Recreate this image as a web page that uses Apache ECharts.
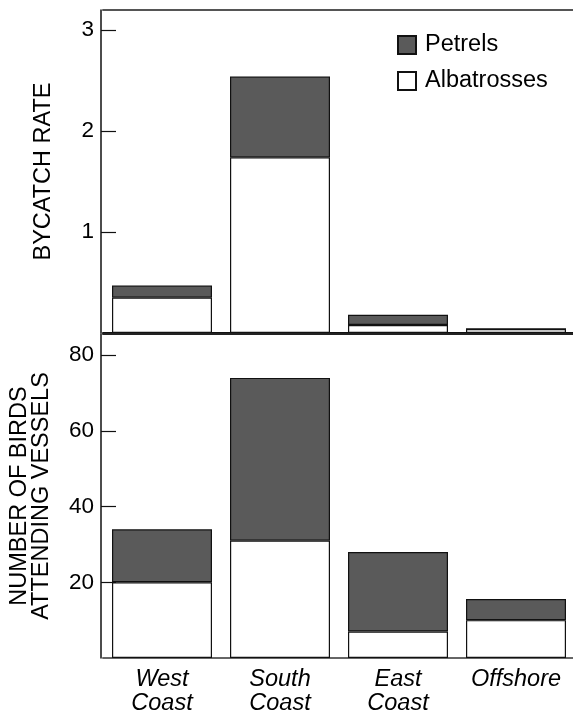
<!DOCTYPE html>
<html><head><meta charset="utf-8">
<script src="https://cdn.jsdelivr.net/npm/echarts@6/dist/echarts.min.js"></script>
<style>html,body{margin:0;padding:0;background:#fff}#c{width:573px;height:713px}</style>
</head><body><div id="c"></div>
<script>
const categories = ['West\nCoast', 'South\nCoast', 'East\nCoast', 'Offshore'];
const bycatchAlbatrosses = [0.35, 1.74, 0.08, 0.04];
const bycatchPetrels = [0.12, 0.80, 0.10, 0];
const birdsAlbatrosses = [20, 31, 7, 10];
const birdsPetrels = [14, 43, 21, 5.6];
const bycatchTicks = [1, 2, 3];
const birdsTicks = [20, 40, 60, 80];

const FONT = 'Liberation Sans, Arial, Helvetica, sans-serif';
const petrelColor = '#5a5a5a';
const chart = echarts.init(document.getElementById('c'), null, {renderer: 'canvas'});

function yAx(gi, max, ticks, name, lh, gap) {
  return {
    type: 'value', gridIndex: gi, min: 0, max: max, offset: 2,
    name: name, nameLocation: 'middle', nameGap: gap, nameRotate: 90,
    nameTextStyle: {fontFamily: FONT, fontSize: 23.5, color: '#000', lineHeight: lh},
    axisLine: {show: true, lineStyle: {color: '#111', width: 1.5}},
    axisTick: {show: true, inside: true, length: 15, customValues: ticks, lineStyle: {color: '#111', width: 1.2}},
    axisLabel: {customValues: ticks, fontFamily: FONT, fontSize: 22.5, color: '#000', margin: 7},
    splitLine: {show: false}
  };
}
function xAx(gi, pos, labels, lineColor) {
  return {
    type: 'category', gridIndex: gi, data: categories, position: pos,
    axisLine: {show: true, onZero: false, lineStyle: {color: lineColor, width: 2}},
    axisTick: {show: false},
    axisLabel: labels ? {show: true, interval: 0, fontFamily: FONT, fontSize: 23.5, fontStyle: 'italic', color: '#000', lineHeight: 24, margin: 9} : {show: false}
  };
}
const barStyle = (c) => ({color: c, borderColor: '#111', borderWidth: 1.2});

chart.setOption({
  animation: false,
  backgroundColor: '#fff',
  grid: [
    {left: 103, right: -2, top: 10, height: 323, outerBoundsMode: 'none', containLabel: false},
    {left: 103, right: -2, top: 334, height: 324, outerBoundsMode: 'none', containLabel: false}
  ],
  legend: {
    data: ['Petrels', 'Albatrosses'], orient: 'vertical', left: 397, top: 33, padding: 0,
    itemWidth: 18, itemHeight: 18, itemGap: 12,
    textStyle: {fontFamily: FONT, fontSize: 23.5, color: '#000', padding: [0, 0, 0, 4]},
    icon: 'rect'
  },
  xAxis: [
    xAx(0, 'bottom', false, '#111'),
    xAx(1, 'bottom', true, '#666'),
    xAx(0, 'top', false, '#555'),
    xAx(1, 'top', false, '#222')
  ],
  yAxis: [
    yAx(0, 3.2, bycatchTicks, 'BYCATCH RATE', 19, 48),
    yAx(1, 85.6, birdsTicks, 'NUMBER OF BIRDS\nATTENDING VESSELS', 22, 48)
  ],
  series: [
    {name: 'Albatrosses', type: 'bar', stack: 'top', xAxisIndex: 0, yAxisIndex: 0, data: bycatchAlbatrosses, barWidth: 100, itemStyle: barStyle('#fff')},
    {name: 'Petrels', type: 'bar', stack: 'top', xAxisIndex: 0, yAxisIndex: 0, data: bycatchPetrels, barWidth: 100, itemStyle: barStyle(petrelColor)},
    {name: 'Albatrosses', type: 'bar', stack: 'bot', xAxisIndex: 1, yAxisIndex: 1, data: birdsAlbatrosses, barWidth: 100, itemStyle: barStyle('#fff')},
    {name: 'Petrels', type: 'bar', stack: 'bot', xAxisIndex: 1, yAxisIndex: 1, data: birdsPetrels, barWidth: 100, itemStyle: barStyle(petrelColor)}
  ]
});
</script></body></html>
